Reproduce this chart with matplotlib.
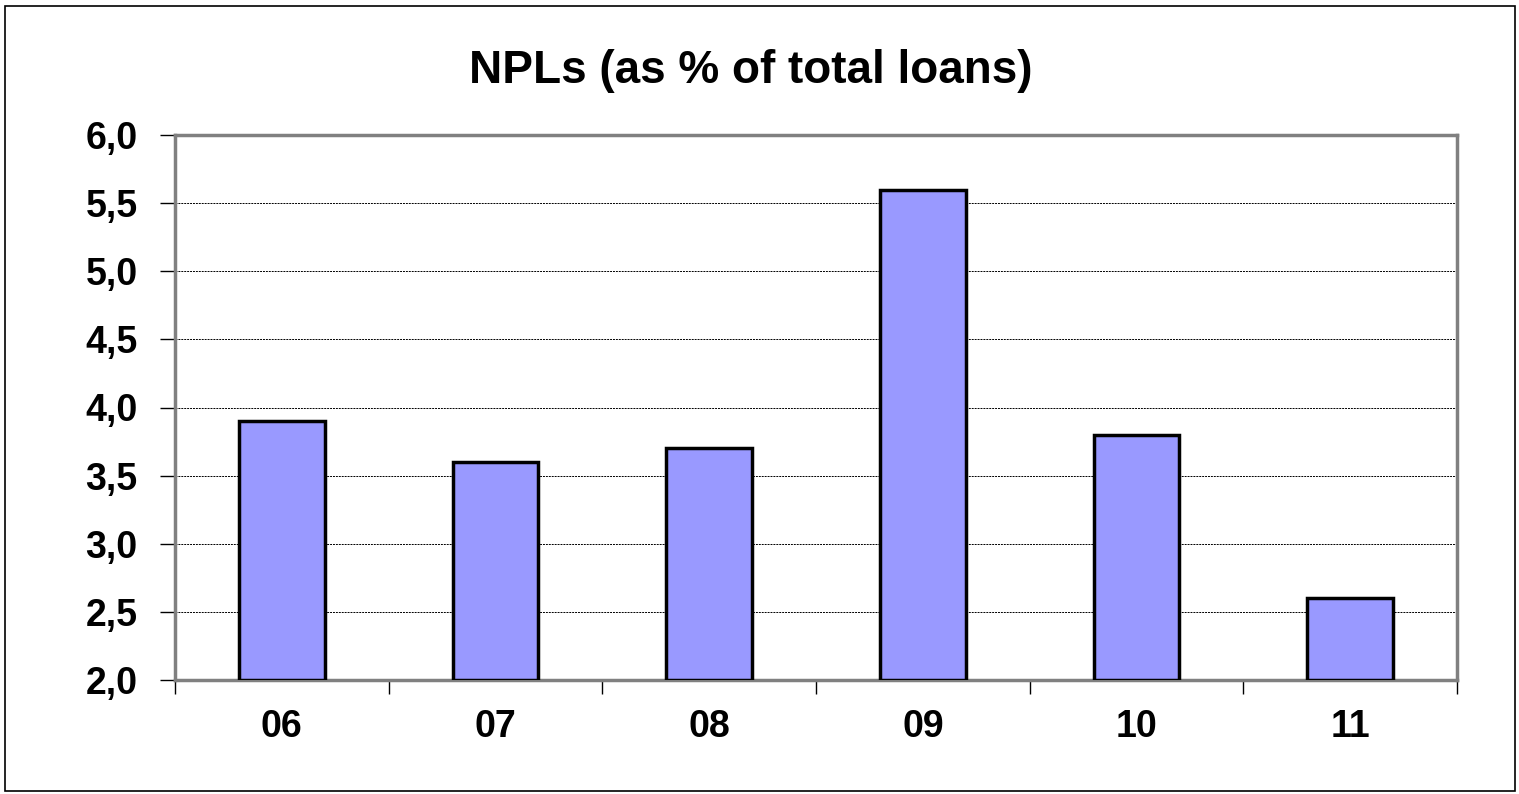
import matplotlib.pyplot as plt
import numpy as np
from matplotlib.patches import Rectangle

years = ['06', '07', '08', '09', '10', '11']
npl_ratio = [3.9, 3.6, 3.7, 5.6, 3.8, 2.6]
y_ticks = [2.0, 2.5, 3.0, 3.5, 4.0, 4.5, 5.0, 5.5, 6.0]
y_labels = ['2,0', '2,5', '3,0', '3,5', '4,0', '4,5', '5,0', '5,5', '6,0']

plt.rcParams['font.family'] = ['Liberation Sans', 'DejaVu Sans']
plt.rcParams['font.weight'] = 'bold'

fig = plt.figure(figsize=(15.19, 7.94), dpi=100)
ax = fig.add_axes([175/1519, 1 - 680/794, (1457-175)/1519, (680-135)/794])

# outer frame round the whole chart
fig.patches.append(Rectangle((5/1519, 3/794), 1510/1519, 785/794,
                             transform=fig.transFigure, fill=False,
                             edgecolor='black', linewidth=1.2))

x = np.arange(len(years))
base = 2.0
heights = [v - base for v in npl_ratio]
ax.bar(x, heights, bottom=base, width=0.4, color='#9999FF',
       edgecolor='black', linewidth=2.5, zorder=3)

ax.set_xlim(-0.5, len(years) - 0.5)
ax.set_ylim(2.0, 6.0)

ax.set_yticks(y_ticks)
ax.set_yticklabels(y_labels, fontsize=27, fontweight='bold')
ax.tick_params(axis='y', direction='out', length=11, width=1, color='black', pad=16)

# category labels centred, ticks at the boundaries between them
ax.set_xticks(x)
ax.set_xticklabels(years, fontsize=27, fontweight='bold')
ax.tick_params(axis='x', which='major', length=0, pad=21)
ax.set_xticks(np.arange(-0.5, len(years)), minor=True)
ax.tick_params(axis='x', which='minor', direction='out', length=10, width=1, color='black')

for yv in y_ticks[1:-1]:
    ax.axhline(yv, color='black', linestyle=(0, (2, 1)), linewidth=0.7, zorder=1)

for s in ax.spines.values():
    s.set_color('#808080')
    s.set_linewidth(2.5)

fig.text(751/1519, 1 - 71/794, 'NPLs (as % of total loans)', ha='center', va='center',
         fontsize=33, fontweight='bold')

fig.savefig('out.png', dpi=100)
